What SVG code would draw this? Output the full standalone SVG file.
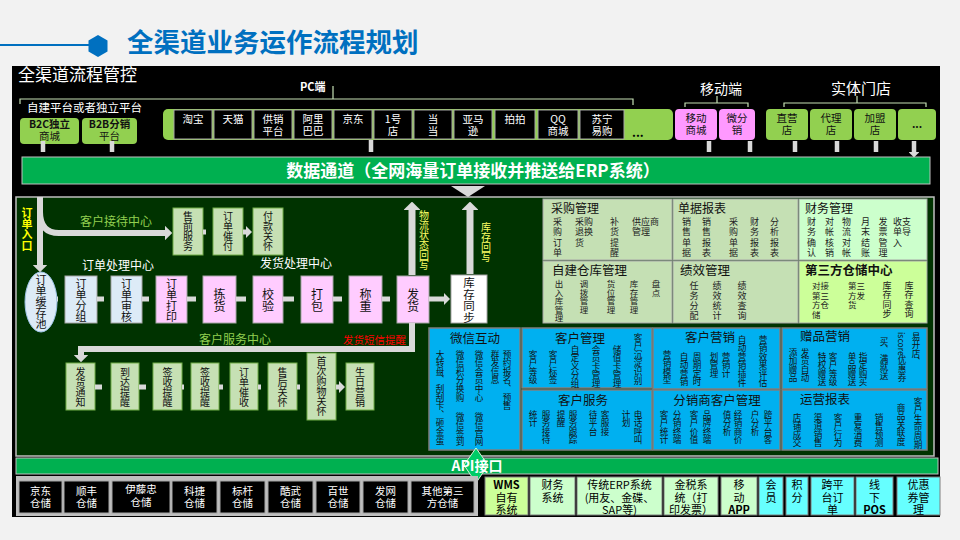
<svg xmlns="http://www.w3.org/2000/svg" width="960" height="540" viewBox="0 0 960 540">
<defs>
<marker id="ah" viewBox="0 0 10 20" refX="0" refY="10" markerWidth="1.2" markerHeight="2.4" orient="auto" markerUnits="strokeWidth"><path d="M0,0 L10,10 L0,20 z" fill="#d9d9d9"/></marker>
</defs>
<style>
text{font-family:"Noto Sans CJK SC","Liberation Sans",sans-serif}
.v{writing-mode:vertical-rl}
.c{text-anchor:middle}
.wt{fill:#fff;font-size:10.5px}
.dk{fill:#111;font-size:10.5px}
.bx{fill:#000;stroke:#a6a6a6;stroke-width:1}
.gr{fill:#92d050}
.pkm{fill:#ff99ff}
.lg{fill:#c6e0b4;stroke:#70ad47;stroke-width:1}
.pk{fill:#ffccff;stroke:#a6a6a6;stroke-width:1}
.lb{fill:#ddebf7;stroke:#a6a6a6;stroke-width:1}
.bl{fill:#00b0f0;stroke:#7f7f7f;stroke-width:1.5}
.md{stroke:#a6a6a6;stroke-width:1}
.mt{font-size:12px;fill:#111}
.s9{font-size:9px;fill:#222}
.s85{font-size:8.5px;fill:#222}
.bt{font-size:8.6px;fill:#111}
.bh{font-size:12.5px;fill:#111}
.r10{font-size:10px;fill:#111}
.r11{font-size:11px;fill:#111}
.r12{font-size:12px;fill:#111}
.sy{font-size:11px;fill:#000}
.ar{stroke:#d9d9d9;fill:none;marker-end:url(#ah)}
.br{stroke:#c5e0b4;stroke-width:1.2;fill:none}
</style>
<rect width="960" height="540" fill="#f2f2f2"/>
<g id="header">
<line x1="0" y1="45" x2="92" y2="45" stroke="#0070c0" stroke-width="2"/>
<polygon points="98,35 107.5,40.5 107.5,51.5 98,57 88.5,51.5 88.5,40.5" fill="#0070c0"/>
<text x="127" y="52" font-size="26.5" font-weight="bold" fill="#0070c0">全渠道业务运作流程规划</text>
</g>
<rect x="12" y="66" width="928" height="451" fill="#000"/>
<text x="18" y="81" font-size="17" fill="#fff">全渠道流程管控</text>
<g id="brackets">
<path class="br" d="M20,104 V99 H633 V105 M333,99 V86"/>
<text x="300" y="91" font-size="11" font-weight="bold" fill="#fff">PC端</text>
<text x="27" y="112" font-size="11.5" fill="#fff">自建平台或者独立平台</text>
<path class="br" d="M685,107 V103 H748 V107 M717,103 V96"/>
<text x="721" y="94" font-size="14" fill="#fff" class="c">移动端</text>
<path class="br" d="M784,107 V103 H926 V107 M857,103 V96"/>
<text x="861" y="94" font-size="15" fill="#fff" class="c">实体门店</text>
</g>
<g id="n-b2c"><rect class="gr" x="20" y="118" width="59" height="26" rx="4"/><text class="dk c" x="49.5" y="128" font-weight="bold">B2C独立</text><text class="dk c" x="49.5" y="140">商城</text></g>
<g id="n-b2b"><rect class="gr" x="82" y="118" width="55" height="26" rx="4"/><text class="dk c" x="109.5" y="128" font-weight="bold">B2B分销</text><text class="dk c" x="109.5" y="140">平台</text></g>
<g id="n-pc">
<rect class="gr" x="163" y="109" width="510" height="31" rx="5"/>
<rect class="bx" x="174" y="110" width="38" height="29"/><text class="wt c" x="193" y="123">淘宝</text>
<rect class="bx" x="214" y="110" width="38" height="29"/><text class="wt c" x="233" y="123">天猫</text>
<rect class="bx" x="254" y="110" width="38" height="29"/><text class="wt c" x="273" y="123">供销</text><text class="wt c" x="273" y="135">平台</text>
<rect class="bx" x="294" y="110" width="38" height="29"/><text class="wt c" x="313" y="123">阿里</text><text class="wt c" x="313" y="135">巴巴</text>
<rect class="bx" x="334" y="110" width="38" height="29"/><text class="wt c" x="353" y="123">京东</text>
<rect class="bx" x="374" y="110" width="38" height="29"/><text class="wt c" x="393" y="123">1号</text><text class="wt c" x="393" y="135">店</text>
<rect class="bx" x="414" y="110" width="38" height="29"/><text class="wt c" x="433" y="123">当</text><text class="wt c" x="433" y="135">当</text>
<rect class="bx" x="454" y="110" width="38" height="29"/><text class="wt c" x="473" y="123">亚马</text><text class="wt c" x="473" y="135">逊</text>
<rect class="bx" x="495" y="110" width="40" height="29"/><text class="wt c" x="515" y="123">拍拍</text>
<rect class="bx" x="538" y="110" width="40" height="29"/><text class="wt c" x="558" y="123">QQ</text><text class="wt c" x="558" y="135">商城</text>
<rect class="bx" x="580" y="110" width="44" height="29"/><text class="wt c" x="602" y="123">苏宁</text><text class="wt c" x="602" y="135">易购</text>
<text x="632" y="137" font-size="12" font-weight="bold" fill="#000">...</text>
</g>
<g id="n-mobile">
<rect class="pkm" x="675" y="109" width="42" height="31" rx="4"/><text class="dk c" x="696" y="122">移动</text><text class="dk c" x="696" y="134">商城</text>
<rect class="pkm" x="719" y="109" width="36" height="31" rx="4"/><text class="dk c" x="737" y="122">微分</text><text class="dk c" x="737" y="134">销</text>
</g>
<g id="n-store">
<rect class="gr" x="766" y="109" width="42" height="31" rx="4"/><text class="dk c" x="787" y="122">直营</text><text class="dk c" x="787" y="134">店</text>
<rect class="gr" x="810" y="109" width="42" height="31" rx="4"/><text class="dk c" x="831" y="122">代理</text><text class="dk c" x="831" y="134">店</text>
<rect class="gr" x="854" y="109" width="42" height="31" rx="4"/><text class="dk c" x="875" y="122">加盟</text><text class="dk c" x="875" y="134">店</text>
<rect class="gr" x="898" y="109" width="38" height="31" rx="4"/><text class="dk c" x="917" y="128" font-weight="bold">...</text>
</g>
<g id="n-databar"><rect x="22" y="157" width="908" height="27" fill="#00b050" stroke="#bfbfbf" stroke-width="1"/><text x="473" y="176.5" class="c" font-size="17" font-weight="bold" fill="#fff">数据通道（全网海量订单接收并推送给ERP系统）</text></g>
<rect id="panel" x="16" y="197" width="918" height="259" fill="#003300" stroke="#bfbfbf" stroke-width="1.5"/>
<g id="labels">
<text class="v" x="27" y="207" font-size="11" font-weight="bold" fill="#ffff00">订单入口</text>
<text x="80" y="226" font-size="12" fill="#92d050">客户接待中心</text>
<text x="82" y="270" font-size="12" fill="#fff">订单处理中心</text>
<text x="260" y="268" font-size="12" fill="#fff">发货处理中心</text>
<text class="v" x="424" y="210" font-size="10" fill="#ffff66">物流状态回写</text>
<text class="v" x="486" y="222" font-size="10" fill="#ffff66">库存回写</text>
<text x="235" y="344" class="c" font-size="12" fill="#92d050">客户服务中心</text>
<text x="343" y="344" font-size="10.5" fill="#ff0000">发货短信提醒</text>
</g>
<g id="n-presale"><rect class="lg" x="173" y="208" width="30" height="47"/><text class="v r10" x="188" y="211">售前服务</text></g>
<g id="n-payremind"><rect class="lg" x="213" y="208" width="30" height="47"/><text class="v r10" x="228" y="211">订单催付</text></g>
<g id="n-paycare"><rect class="lg" x="253" y="208" width="30" height="47"/><text class="v r10" x="268" y="211">付款关怀</text></g>
<g id="n-pool"><ellipse cx="41" cy="302" rx="16" ry="30" fill="#ddebf7" stroke="#9dc3e6"/><text class="v r11" x="41" y="274">订单缓存池</text></g>
<g id="n-group"><rect class="lb" x="65" y="276" width="32" height="47"/><text class="v r11" x="81" y="278">订单分组</text></g>
<g id="n-audit"><rect class="lb" x="111" y="276" width="31" height="47"/><text class="v r11" x="126.5" y="278">订单审核</text></g>
<g id="n-print"><rect class="pk" x="156" y="276" width="31" height="47"/><text class="v r11" x="171.5" y="278">订单打印</text></g>
<g id="n-pick"><rect class="pk" x="203" y="276" width="33" height="47"/><text class="v r12" x="219.5" y="288">拣货</text></g>
<g id="n-check"><rect class="pk" x="253" y="276" width="30" height="47"/><text class="v r12" x="268" y="288">校验</text></g>
<g id="n-pack"><rect class="pk" x="301" y="276" width="32" height="47"/><text class="v r12" x="317" y="288">打包</text></g>
<g id="n-weigh"><rect class="pk" x="349" y="276" width="33" height="47"/><text class="v r12" x="365.5" y="288">称重</text></g>
<g id="n-ship"><rect class="pk" x="397" y="276" width="32" height="47"/><text class="v r12" x="413" y="288">发货</text></g>
<g id="n-sync"><rect x="451" y="275" width="36" height="48" fill="#fff" stroke="#a6a6a6"/><text class="v" x="469" y="277" font-size="11.5" fill="#111">库存同步</text></g>
<g id="n-notice"><rect class="lg" x="66" y="363" width="29" height="47"/><text class="v r10" x="80.5" y="367">发货通知</text></g>
<g id="n-arrive"><rect class="lg" x="111" y="363" width="28" height="47"/><text class="v r10" x="125" y="367">到达提醒</text></g>
<g id="n-sign1"><rect class="lg" x="153" y="363" width="29" height="47"/><text class="v r10" x="167.5" y="367">签收提醒</text></g>
<g id="n-sign2"><rect class="lg" x="191" y="363" width="28" height="47"/><text class="v r10" x="205" y="367">签收提醒</text></g>
<g id="n-collect"><rect class="lg" x="230" y="363" width="28" height="47"/><text class="v r10" x="244" y="367">订单催收</text></g>
<g id="n-aftercare"><rect class="lg" x="268" y="363" width="29" height="47"/><text class="v r10" x="282.5" y="367">售后关怀</text></g>
<g id="n-firstbuy"><rect class="lg" x="307" y="353" width="29" height="67"/><text class="v r10" x="321.5" y="356">首次购物关怀</text></g>
<g id="n-birthday"><rect class="lg" x="346" y="363" width="28" height="47"/><text class="v r10" x="360" y="367">生日营销</text></g>
<g id="m-purchase">
<rect class="md" x="543" y="199" width="129" height="61" fill="#c5e0b4"/>
<text class="mt" x="551" y="213">采购管理</text>
<text class="v s9" x="557.5" y="217" letter-spacing="1.3">采购订单</text>
<text class="s9" x="575" y="225">采购<tspan x="575" dy="10.3">退换</tspan><tspan x="575" dy="10.3">货</tspan></text>
<text class="v s9" x="614.5" y="217" letter-spacing="1.3">补货提醒</text>
<text class="s9" x="632" y="225">供应商<tspan x="632" dy="10.3">管理</tspan></text>
</g>
<g id="m-report">
<rect class="md" x="673" y="199" width="125" height="61" fill="#c5e0b4"/>
<text class="mt" x="678" y="213">单据报表</text>
<text class="v s9" x="686.5" y="217" letter-spacing="1.3">销售单据</text>
<text class="v s9" x="706.5" y="217" letter-spacing="1.3">销售报表</text>
<text class="v s9" x="733.5" y="217" letter-spacing="1.3">采购单据</text>
<text class="v s9" x="754.5" y="217" letter-spacing="1.3">财务报表</text>
<text class="v s9" x="774.5" y="217" letter-spacing="1.3">分析报表</text>
</g>
<g id="m-finance">
<rect class="md" x="799" y="199" width="128" height="61" fill="#ccffcc"/>
<text class="mt" x="805" y="213">财务管理</text>
<text class="v s9" x="811.5" y="217" letter-spacing="1.3">财务确认</text>
<text class="v s9" x="829.5" y="217" letter-spacing="1.3">对帐核销</text>
<text class="v s9" x="846.5" y="217" letter-spacing="1.3">物流对帐</text>
<text class="v s9" x="865.5" y="217" letter-spacing="1.3">月末结账</text>
<text class="v s9" x="883" y="217" letter-spacing="1.3">发票管理</text>
<text class="s9" x="893" y="225">收支<tspan x="893" dy="10.3">单导</tspan><tspan x="893" dy="10.3">入</tspan></text>
</g>
<g id="m-warehouse">
<rect class="md" x="543" y="261" width="129" height="62" fill="#c5e0b4"/>
<text x="552" y="275" font-size="12.5" fill="#111">自建仓库管理</text>
<text class="v s85" x="559" y="280">出入库管理</text>
<text class="v s85" x="584" y="280">调拨管理</text>
<text class="v s85" x="611" y="280">货位管理</text>
<text class="v s85" x="634" y="280">库存管理</text>
<text class="v s85" x="656" y="280">盘点</text>
</g>
<g id="m-perf">
<rect class="md" x="673" y="261" width="125" height="62" fill="#c5e0b4"/>
<text x="680" y="275" font-size="12.5" fill="#111">绩效管理</text>
<text class="v s9" x="694" y="281.5" letter-spacing="1">任务分配</text>
<text class="v s9" x="717" y="281.5" letter-spacing="1">绩效统计</text>
<text class="v s9" x="742" y="281.5" letter-spacing="1">绩效查询</text>
</g>
<g id="m-3pl">
<rect class="md" x="799" y="261" width="128" height="62" fill="#ccff99"/>
<text x="805" y="275" font-size="12.5" font-weight="bold" fill="#111">第三方仓储中心</text>
<text class="s85" x="812" y="289">对接<tspan x="812" dy="9.5">第三</tspan><tspan x="812" dy="9.5">方仓</tspan><tspan x="812" dy="9.5">储</tspan></text>
<text class="s85" x="848" y="289">第三<tspan x="848" dy="9.5">方发</tspan><tspan x="848" dy="9.5">货</tspan></text>
<text class="v s9" x="887" y="281" letter-spacing="0.5">库存同步</text>
<text class="v s9" x="909" y="281" letter-spacing="0.5">库存查询</text>
</g>
<g id="m-wechat">
<rect class="bl" x="429" y="328" width="91" height="122"/>
<text class="bh c" x="475" y="343">微信互动</text>
<text class="v bt" x="440" y="350">大转盘、刮刮卡、砸金蛋</text>
<text class="v bt" x="460" y="350">微信积分换购</text>
<text class="v bt" x="460" y="412">微信签到</text>
<text class="v bt" x="479" y="350">微信会员中心</text>
<text class="v bt" x="479" y="412">微信官网</text>
<text class="v bt" x="495" y="350">群发信息</text>
<text class="v bt" x="507" y="350">预约报名、预售</text>
</g>
<g id="m-crm">
<rect class="bl" x="522" y="328" width="130" height="60"/>
<text class="bh c" x="580" y="343">客户管理</text>
<text class="v bt" x="533" y="350">客户等级</text>
<text class="v bt" x="553" y="350">客户标签</text>
<text class="v bt" x="575" y="345">自定义分组</text>
<text class="v bt" x="596" y="345">会员卡管理</text>
<text class="v bt" x="617" y="345">储值卡管理</text>
<text class="v bt" x="638" y="333">客户沉淀识别</text>
</g>
<g id="m-service">
<rect class="bl" x="522" y="390" width="130" height="60"/>
<text class="bh c" x="583" y="405">客户服务</text>
<text class="v bt" x="533" y="410">统计</text>
<text class="v bt" x="546" y="410">服务接待</text>
<text class="v bt" x="561" y="410">提醒</text>
<text class="v bt" x="573" y="410">服务跟踪</text>
<text class="v bt" x="593" y="410">待平台</text>
<text class="v bt" x="605" y="410">客服接</text>
<text class="v bt" x="626" y="410">计划</text>
<text class="v bt" x="638" y="410">电话呼叫</text>
</g>
<g id="m-marketing">
<rect class="bl" x="653" y="328" width="127" height="61"/>
<text class="bh c" x="710" y="342">客户营销</text>
<text class="v bt" x="667" y="350">营销模型</text>
<text class="v bt" x="684" y="352">自动营销</text>
<text class="v bt" x="697" y="352">周期定时</text>
<text class="v bt" x="714" y="352">划管理</text>
<text class="v bt" x="726" y="352">营销计</text>
<text class="v bt" x="742" y="335">自动营销插件</text>
<text class="v bt" x="763" y="335">营销效果评估</text>
</g>
<g id="m-distributor">
<rect class="bl" x="653" y="390" width="127" height="60"/>
<text class="bh c" x="717" y="405">分销商客户管理</text>
<text class="v bt" x="664" y="410">客户统计</text>
<text class="v bt" x="677" y="410">分销终端</text>
<text class="v bt" x="694" y="410">客户价值</text>
<text class="v bt" x="707" y="410">品牌终端</text>
<text class="v bt" x="727" y="410">值分析</text>
<text class="v bt" x="738" y="410">经销商价</text>
<text class="v bt" x="755" y="410">户分析</text>
<text class="v bt" x="768" y="410">跨平台客</text>
</g>
<g id="m-gift">
<rect class="bl" x="782" y="328" width="145" height="61"/>
<text class="bh c" x="825" y="341">赠品营销</text>
<text class="v bt" x="793" y="348">添加赠品</text>
<text class="v bt" x="805" y="348">发货自动</text>
<text class="v bt" x="822" y="352">特权赠送</text>
<text class="v bt" x="833" y="352">客户等级</text>
<text class="v bt" x="852" y="352">单品赠送</text>
<text class="v bt" x="863" y="352">指定购买</text>
<text class="v bt" x="884" y="337">买、满就送</text>
<text class="v bt" x="902" y="332">iscore优惠券</text>
<text class="v bt" x="916" y="332">易开店、</text>
</g>
<g id="m-opreport">
<rect class="bl" x="782" y="390" width="145" height="60"/>
<text class="bh c" x="825" y="404">运营报表</text>
<text class="v bt" x="797" y="413">店铺成交</text>
<text class="v bt" x="818" y="413">渠道销售</text>
<text class="v bt" x="838" y="413">客户行为</text>
<text class="v bt" x="858" y="413">重复消费</text>
<text class="v bt" x="879" y="413">销售预测</text>
<text class="v bt" x="901" y="403">商品关联度</text>
<text class="v bt" x="918" y="397">客户生命周期</text>
</g>
<g id="connectors">
<path class="ar" stroke-width="4.5" d="M43,141 V152 M112,141 V152 M371,140 V152 M709,141 V152 M750,141 V152 M795,141 V152 M837,141 V152 M876,141 V152 M914,141 V152"/>
<path class="ar" stroke-width="6" d="M40,197 V265"/>
<path class="ar" stroke-width="6" d="M40,212 Q40,233 59,233 H165"/>
<path class="ar" stroke-width="5" d="M203,232 H206 M243,232 H246"/>
<path class="ar" stroke-width="5" d="M57,299 H58 M97,299 H104 M142,299 H149 M187,299 H196 M236,299 H246 M283,299 H294 M333,299 H342 M382,299 H390 M429,299 H444"/>
<path class="ar" stroke-width="7" d="M412,275 V210"/>
<path class="ar" stroke-width="7" d="M470,274 V210"/>
<polygon points="451,186 485,186 468,197" fill="#d9d9d9"/>
<path class="ar" stroke-width="6" d="M412,323 V349 H81 V355"/>
<path class="ar" stroke-width="5" d="M95,387 H102 M139,387 H146 M182,387 H184 M219,387 H223 M258,387 H261 M297,387 H300 M336,387 H339"/>
</g>
<g id="n-api">
<rect x="16" y="458" width="922" height="16" fill="#00b050" stroke="#bfbfbf" stroke-width="1"/>
<polygon points="476,448 488,465 476,483 464,465" fill="#00cc66" stroke="#d9f2d9" stroke-width="1"/>
<text x="477" y="471" class="c" font-size="14" font-weight="bold" fill="#fff">API接口</text>
</g>
<g id="n-wh">
<rect x="16" y="476" width="462" height="40" fill="#bfbfbf"/>
<rect class="bx" x="19" y="481" width="43" height="32"/><text class="wt c" x="40.5" y="495">京东</text><text class="wt c" x="40.5" y="507">仓储</text>
<rect class="bx" x="64" y="481" width="45" height="32"/><text class="wt c" x="86.5" y="495">顺丰</text><text class="wt c" x="86.5" y="507">仓储</text>
<rect class="bx" x="112" y="481" width="58" height="32"/><text class="wt c" x="141" y="493">伊藤忠</text><text class="wt c" x="141" y="506">仓储</text>
<rect class="bx" x="172" y="481" width="45" height="32"/><text class="wt c" x="194.5" y="495">科捷</text><text class="wt c" x="194.5" y="507">仓储</text>
<rect class="bx" x="220" y="481" width="45" height="32"/><text class="wt c" x="242.5" y="495">标杆</text><text class="wt c" x="242.5" y="507">仓储</text>
<rect class="bx" x="268" y="481" width="45" height="32"/><text class="wt c" x="290.5" y="495">酷武</text><text class="wt c" x="290.5" y="507">仓储</text>
<rect class="bx" x="316" y="481" width="44" height="32"/><text class="wt c" x="338" y="495">百世</text><text class="wt c" x="338" y="507">仓储</text>
<rect class="bx" x="363" y="481" width="45" height="32"/><text class="wt c" x="385.5" y="495">发网</text><text class="wt c" x="385.5" y="507">仓储</text>
<rect class="bx" x="411" y="481" width="63" height="32"/><text class="wt c" x="442.5" y="495">其他第三</text><text class="wt c" x="442.5" y="507">方仓储</text>
</g>
<g id="n-sys">
<rect x="485" y="477" width="43" height="38" fill="#ccff99" stroke="#7f7f7f"/><text class="sy c" x="506.5" y="489" font-weight="bold">WMS</text><text class="sy c" x="506.5" y="502">自有</text><text class="sy c" x="506.5" y="514">系统</text>
<rect x="530" y="477" width="45" height="38" fill="#ccffcc" stroke="#7f7f7f"/><text class="sy c" x="552.5" y="489">财务</text><text class="sy c" x="552.5" y="502">系统</text>
<rect x="577" y="477" width="85" height="38" fill="#ccffcc" stroke="#7f7f7f"/><text class="sy c" x="619.5" y="489">传统ERP系统</text><text class="sy c" x="619.5" y="502">(用友、金碟、</text><text class="sy c" x="619.5" y="514">SAP等)</text>
<rect x="664" y="477" width="54" height="38" fill="#ccffcc" stroke="#7f7f7f"/><text class="sy c" x="691" y="489">金税系</text><text class="sy c" x="691" y="502">统（打</text><text class="sy c" x="691" y="514">印发票）</text>
<rect x="721" y="477" width="36" height="38" fill="#ccffcc" stroke="#7f7f7f"/><text class="sy c" x="739" y="489">移</text><text class="sy c" x="739" y="502">动</text><text class="sy c" x="739" y="514" font-weight="bold" font-size="10">APP</text>
<rect x="759" y="477" width="24" height="38" fill="#66ffff" stroke="#7f7f7f"/><text class="sy c" x="771" y="489">会</text><text class="sy c" x="771" y="502">员</text>
<rect x="786" y="477" width="22" height="38" fill="#66ffff" stroke="#7f7f7f"/><text class="sy c" x="797" y="489">积</text><text class="sy c" x="797" y="502">分</text>
<rect x="811" y="477" width="43" height="38" fill="#66ffff" stroke="#7f7f7f"/><text class="sy c" x="832.5" y="489">跨平</text><text class="sy c" x="832.5" y="502">台订</text><text class="sy c" x="832.5" y="514">单</text>
<rect x="856" y="477" width="37" height="38" fill="#66ffff" stroke="#7f7f7f"/><text class="sy c" x="874.5" y="489">线</text><text class="sy c" x="874.5" y="502">下</text><text class="sy c" x="874.5" y="514" font-weight="bold" font-size="10">POS</text>
<rect x="897" y="477" width="43" height="38" fill="#66ffff" stroke="#7f7f7f"/><text class="sy c" x="918.5" y="489">优惠</text><text class="sy c" x="918.5" y="502">券管</text><text class="sy c" x="918.5" y="514">理</text>
</g>
</svg>
